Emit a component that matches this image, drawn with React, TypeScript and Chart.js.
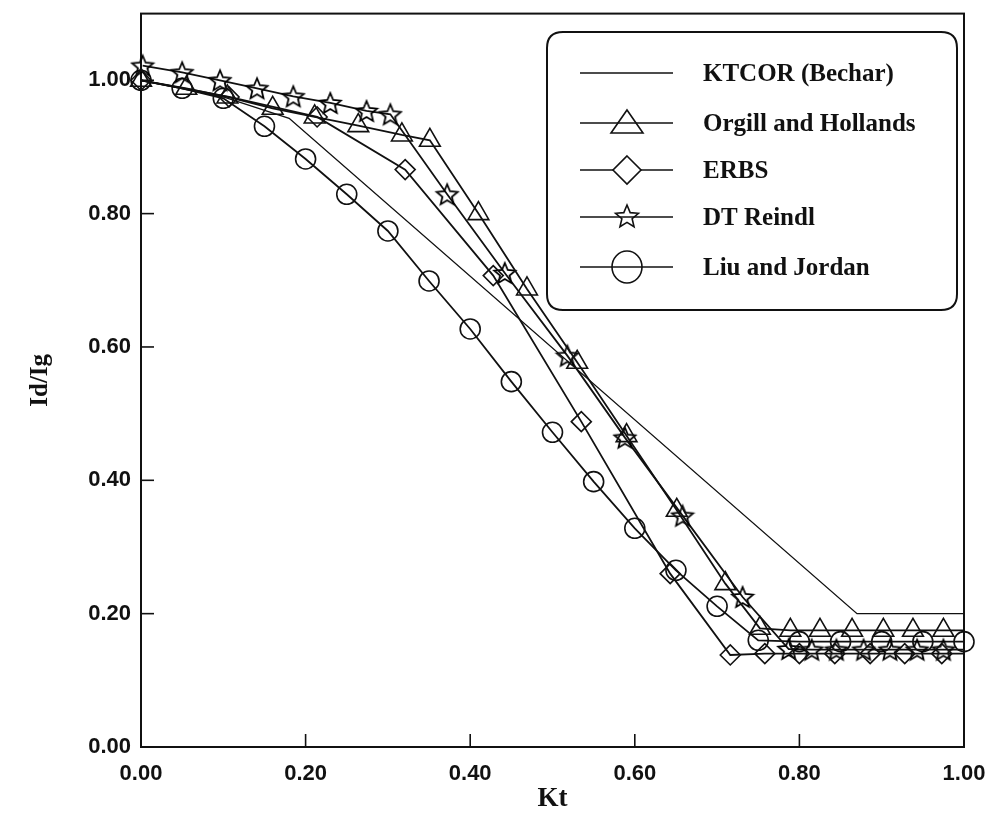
import React, { useEffect, useRef } from 'react';
import { Chart, registerables } from 'chart.js';

Chart.register(...registerables);

// ---- Data ----
const ktcorX = [0, 0.1, 0.18, 0.87, 1.0];
const ktcorY = [1.0, 0.975, 0.943, 0.2, 0.2];

const orgillX = [0, 0.055, 0.105, 0.16, 0.211, 0.264, 0.317, 0.351, 0.41, 0.469, 0.53, 0.59, 0.651, 0.71, 0.752, 0.789, 0.825, 0.864, 0.902, 0.938, 0.975, 1.0];
const orgillY = [1.0, 0.988, 0.975, 0.958, 0.945, 0.932, 0.918, 0.91, 0.8, 0.687, 0.577, 0.467, 0.355, 0.245, 0.178, 0.175, 0.175, 0.175, 0.175, 0.175, 0.175, 0.175];

const erbsX = [0, 0.107, 0.214, 0.321, 0.428, 0.535, 0.643, 0.716, 0.758, 0.8, 0.843, 0.886, 0.928, 0.973, 1.0];
const erbsY = [1.0, 0.975, 0.945, 0.866, 0.707, 0.488, 0.26, 0.138, 0.14, 0.14, 0.14, 0.14, 0.14, 0.14, 0.14];

const reindlX = [0.002, 0.05, 0.096, 0.141, 0.185, 0.23, 0.274, 0.303, 0.372, 0.442, 0.518, 0.588, 0.658, 0.731, 0.787, 0.815, 0.845, 0.878, 0.91, 0.943, 0.975, 1.0];
const reindlY = [1.022, 1.012, 1.0, 0.988, 0.976, 0.966, 0.954, 0.949, 0.829, 0.711, 0.587, 0.464, 0.347, 0.225, 0.147, 0.146, 0.146, 0.146, 0.146, 0.146, 0.146, 0.146];

const liuX = [0, 0.05, 0.1, 0.15, 0.2, 0.25, 0.3, 0.35, 0.4, 0.45, 0.5, 0.55, 0.6, 0.65, 0.7, 0.75, 0.8, 0.85, 0.9, 0.95, 1.0];
const liuY = [1.0, 0.988, 0.973, 0.931, 0.882, 0.829, 0.774, 0.699, 0.627, 0.548, 0.472, 0.398, 0.328, 0.265, 0.211, 0.16, 0.158, 0.158, 0.158, 0.158, 0.158];

const seriesNames = ['KTCOR (Bechar)', 'Orgill and Hollands', 'ERBS', 'DT Reindl', 'Liu and Jordan'];
const xTickValues = [0, 0.2, 0.4, 0.6, 0.8, 1.0];
const yTickValues = [0, 0.2, 0.4, 0.6, 0.8, 1.0];

const INK = '#111111';

function zip(xs: number[], ys: number[]) {
  return xs.map((x, i) => ({ x, y: ys[i] }));
}

function drawStar(ctx: CanvasRenderingContext2D, x: number, y: number, R: number) {
  const r = R * 0.45;
  ctx.beginPath();
  for (let i = 0; i < 10; i++) {
    const rad = i % 2 === 0 ? R : r;
    const a = -Math.PI / 2 + (i * Math.PI) / 5;
    const px = x + rad * Math.cos(a);
    const py = y + rad * Math.sin(a);
    if (i === 0) ctx.moveTo(px, py);
    else ctx.lineTo(px, py);
  }
  ctx.closePath();
  ctx.stroke();
}

function makeStarCanvas(R: number) {
  const c = document.createElement('canvas');
  const s = Math.ceil(R * 2 + 4);
  c.width = s;
  c.height = s;
  const g = c.getContext('2d')!;
  g.strokeStyle = '#000';
  g.lineWidth = 1.8;
  g.lineJoin = 'miter';
  drawStar(g, s / 2, s / 2 + 1, R);
  return c;
}

const framePlugin = {
  id: 'frameTicks',
  beforeDatasetsDraw(chart: any) {
    const { ctx, chartArea, scales } = chart;
    const { left, right, top, bottom } = chartArea;
    ctx.save();
    ctx.strokeStyle = INK;
    ctx.lineWidth = 2;
    ctx.strokeRect(left, top, right - left, bottom - top);
    ctx.lineWidth = 1.6;
    const tl = 13;
    xTickValues.forEach((v) => {
      const px = scales.x.getPixelForValue(v);
      ctx.beginPath();
      ctx.moveTo(px, bottom);
      ctx.lineTo(px, bottom - tl);
      ctx.stroke();
    });
    yTickValues.forEach((v) => {
      const py = scales.y.getPixelForValue(v);
      ctx.beginPath();
      ctx.moveTo(left, py);
      ctx.lineTo(left + tl, py);
      ctx.stroke();
    });
    ctx.restore();
  },
};

const legendPlugin = {
  id: 'boxLegend',
  afterDraw(chart: any) {
    const ctx: CanvasRenderingContext2D = chart.ctx;
    const bx = 547, by = 32, bw = 410, bh = 278, br = 16;
    ctx.save();
    ctx.beginPath();
    ctx.moveTo(bx + br, by);
    ctx.lineTo(bx + bw - br, by);
    ctx.quadraticCurveTo(bx + bw, by, bx + bw, by + br);
    ctx.lineTo(bx + bw, by + bh - br);
    ctx.quadraticCurveTo(bx + bw, by + bh, bx + bw - br, by + bh);
    ctx.lineTo(bx + br, by + bh);
    ctx.quadraticCurveTo(bx, by + bh, bx, by + bh - br);
    ctx.lineTo(bx, by + br);
    ctx.quadraticCurveTo(bx, by, bx + br, by);
    ctx.closePath();
    ctx.fillStyle = '#ffffff';
    ctx.fill();
    ctx.strokeStyle = INK;
    ctx.lineWidth = 2;
    ctx.stroke();

    const rows = [73, 123, 170, 217, 267];
    const x0 = 580, x1 = 673, mx = 627;
    ctx.lineWidth = 1.6;
    rows.forEach((ry, i) => {
      ctx.strokeStyle = INK;
      ctx.beginPath();
      ctx.moveTo(x0, ry);
      ctx.lineTo(x1, ry);
      ctx.stroke();
      ctx.beginPath();
      if (i === 1) {
        ctx.moveTo(mx, ry - 13);
        ctx.lineTo(mx + 16, ry + 10);
        ctx.lineTo(mx - 16, ry + 10);
        ctx.closePath();
        ctx.stroke();
      } else if (i === 2) {
        ctx.moveTo(mx, ry - 14);
        ctx.lineTo(mx + 14, ry);
        ctx.lineTo(mx, ry + 14);
        ctx.lineTo(mx - 14, ry);
        ctx.closePath();
        ctx.fillStyle = '#fff';
        ctx.fill();
        ctx.stroke();
      } else if (i === 3) {
        drawStar(ctx, mx, ry, 12);
      } else if (i === 4) {
        ctx.ellipse(mx, ry, 15, 16, 0, 0, Math.PI * 2);
        ctx.stroke();
      }
      ctx.fillStyle = INK;
      ctx.font = 'bold 25px "Liberation Serif", "Times New Roman", serif';
      ctx.textBaseline = 'middle';
      ctx.textAlign = 'left';
      ctx.fillText(seriesNames[i], 703, ry + 2);
    });
    ctx.restore();
  },
};

export default function App() {
  const ref = useRef<HTMLCanvasElement | null>(null);

  useEffect(() => {
    document.body.style.margin = '0';
    const canvas = ref.current!;
    const star = makeStarCanvas(11);

    const base = {
      borderColor: INK,
      backgroundColor: 'transparent',
      borderWidth: 1.8,
      pointBorderColor: INK,
      pointBackgroundColor: 'transparent',
      pointBorderWidth: 1.6,
      tension: 0,
      clip: false as any,
    };
    const noEnd = (n: number, r: number) => (c: any) => (c.dataIndex === n - 1 ? 0 : r);

    const chart = new Chart(canvas, {
      type: 'line',
      data: {
        datasets: [
          { ...base, label: seriesNames[0], data: zip(ktcorX, ktcorY), pointRadius: 0, borderWidth: 1.4 },
          { ...base, label: seriesNames[1], data: zip(orgillX, orgillY), pointStyle: 'triangle', pointRadius: noEnd(orgillX.length, 12) },
          { ...base, label: seriesNames[2], data: zip(erbsX, erbsY), pointStyle: 'rectRot', pointRadius: noEnd(erbsX.length, 10) },
          { ...base, label: seriesNames[3], data: zip(reindlX, reindlY), pointStyle: star as any, pointRadius: noEnd(reindlX.length, 11) },
          { ...base, label: seriesNames[4], data: zip(liuX, liuY), pointStyle: 'circle', pointRadius: 10 },
        ],
      },
      options: {
        responsive: false,
        animation: false,
        events: [],
        layout: { padding: { top: 13, right: 25, left: 0, bottom: 0 } },
        plugins: { legend: { display: false }, tooltip: { enabled: false } },
        scales: {
          x: {
            type: 'linear',
            min: 0,
            max: 1,
            grid: { display: false, drawTicks: false },
            border: { display: false },
            ticks: {
              stepSize: 0.2,
              padding: 14,
              color: INK,
              maxRotation: 0,
              font: { family: '"Liberation Sans", Arial, sans-serif', size: 22, weight: 'bold' },
              callback: (v: any) => Number(v).toFixed(2),
            },
            title: {
              display: true,
              text: 'Kt',
              color: INK,
              font: { family: '"Liberation Serif", "Times New Roman", serif', size: 27, weight: 'bold', lineHeight: 1 },
              padding: { top: 0, bottom: 0 },
            },
            afterFit: (s: any) => {
              s.height = 66;
              s.paddingLeft = 0;
              s.paddingRight = 0;
              s.paddingTop = 0;
              s.paddingBottom = 0;
            },
          },
          y: {
            type: 'linear',
            min: 0,
            max: 1.1,
            grid: { display: false, drawTicks: false },
            border: { display: false },
            afterBuildTicks: (s: any) => {
              s.ticks = s.ticks.filter((t: any) => t.value <= 1.0001);
            },
            ticks: {
              stepSize: 0.2,
              padding: 10,
              color: INK,
              font: { family: '"Liberation Sans", Arial, sans-serif', size: 22, weight: 'bold' },
              callback: (v: any) => Number(v).toFixed(2),
            },
            title: {
              display: true,
              text: 'Id/Ig',
              color: INK,
              font: { family: '"Liberation Serif", "Times New Roman", serif', size: 25, weight: 'bold', lineHeight: 1 },
              padding: { top: 28, bottom: 0 },
            },
            afterFit: (s: any) => {
              s.width = 141;
              s.paddingLeft = 0;
              s.paddingRight = 0;
              s.paddingTop = 0;
              s.paddingBottom = 0;
            },
          },
        },
      },
      plugins: [framePlugin, legendPlugin],
    });

    return () => {
      chart.destroy();
    };
  }, []);

  return (
    <div style={{ width: 989, height: 813, background: '#fff' }}>
      <canvas ref={ref} width={989} height={813} style={{ display: 'block' }} />
    </div>
  );
}
